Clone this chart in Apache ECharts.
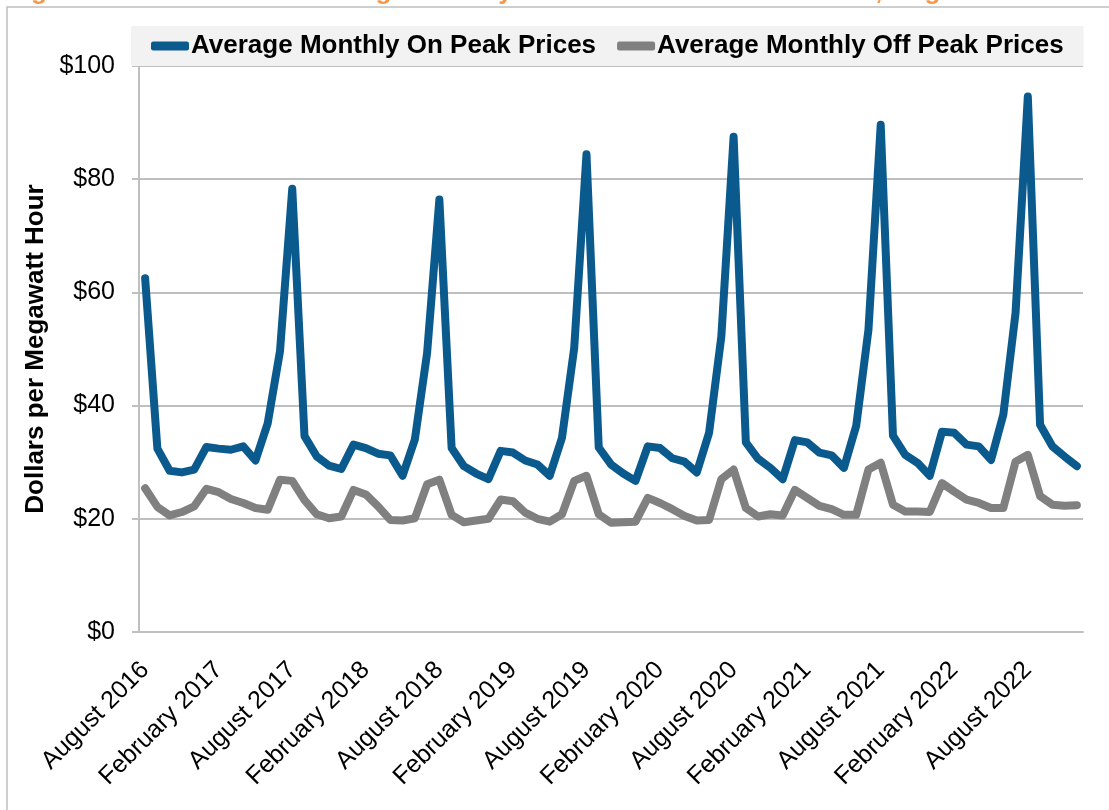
<!DOCTYPE html>
<html>
<head>
<meta charset="utf-8">
<script src="https://cdn.jsdelivr.net/npm/echarts@6/dist/echarts.min.js"></script>
<style>
  html, body { margin: 0; padding: 0; background: #fff; }
  #chart { width: 1109px; height: 810px; }
</style>
</head>
<body>
<div id="chart"></div>
<script>
// monthly averages, August 2016 .. December 2022
var monthNames = ['January', 'February', 'March', 'April', 'May', 'June', 'July',
  'August', 'September', 'October', 'November', 'December']
var startYear = 2016
var startMonth = 7 // August
var onPeak = [
  62.5, 32.4, 28.5, 28.2, 28.7, 32.7, 32.4, 32.2, 32.8, 30.3, 36.9, 49.6, 78.3,
  34.6, 31.0, 29.4, 28.8, 33.1, 32.5, 31.5, 31.2, 27.6, 34.0, 49.3, 76.4,
  32.5, 29.3, 28.0, 27.0, 32.0, 31.7, 30.3, 29.6, 27.6, 34.3, 50.2, 84.4,
  32.6, 29.6, 28.0, 26.7, 32.8, 32.5, 30.7, 30.1, 28.2, 35.2, 52.2, 87.5,
  33.5, 30.6, 29.0, 27.0, 33.9, 33.5, 31.7, 31.2, 29.0, 36.4, 53.4, 89.6,
  34.7, 31.3, 29.9, 27.6, 35.4, 35.2, 33.1, 32.8, 30.4, 38.4, 56.4, 94.6,
  36.6, 32.8, 31.0, 29.3
]
var offPeak = [
  25.4, 22.1, 20.6, 21.2, 22.2, 25.3, 24.7, 23.5, 22.8, 21.9, 21.6, 26.9, 26.7,
  23.3, 20.8, 20.1, 20.4, 25.1, 24.3, 22.2, 19.8, 19.7, 20.1, 26.1, 26.9,
  20.7, 19.4, 19.7, 20.0, 23.4, 23.1, 21.1, 20.0, 19.5, 20.8, 26.7, 27.6,
  20.8, 19.3, 19.4, 19.5, 23.7, 22.8, 21.7, 20.5, 19.7, 19.8, 27.0, 28.7,
  21.9, 20.4, 20.8, 20.6, 25.1, 23.7, 22.3, 21.7, 20.7, 20.7, 28.7, 29.9,
  22.5, 21.3, 21.3, 21.2, 26.3, 24.8, 23.4, 22.8, 21.9, 21.9, 30.1, 31.3,
  24.0, 22.5, 22.3, 22.4
]
var yTicks = [0, 20, 40, 60, 80, 100]

var categories = onPeak.map(function (v, i) {
  var m = startMonth + i
  return monthNames[m % 12] + ' ' + (startYear + Math.floor(m / 12))
})

var font = '"Liberation Sans", Arial, sans-serif'
var gridGray = '#bfbfbf'

var chart = echarts.init(document.getElementById('chart'))
chart.setOption({
  backgroundColor: '#fff',
  animation: false,
  textStyle: { fontFamily: font },
  graphic: [
    {
      type: 'rect',
      z: -10,
      shape: { x: 7, y: 7, width: 1130, height: 830 },
      style: { fill: '#fff', stroke: gridGray, lineWidth: 1.5 }
    },
    {
      type: 'text',
      left: 8,
      top: -21,
      style: {
        text: 'Figure 1: Mid-Columbia Average Monthly On Peak and Off Peak Prices, August 2016 to December 2022',
        fill: '#F79646',
        font: 'bold 26px ' + font
      }
    }
  ],
  grid: {
    left: 139,
    right: 26,
    top: 66,
    bottom: 178,
    outerBoundsMode: 'none'
  },
  legend: {
    left: 131,
    top: 26,
    padding: [7, 20, 7, 20],
    backgroundColor: '#f2f2f2',
    itemGap: 21,
    itemWidth: 38,
    itemHeight: 9,
    icon: 'roundRect',
    textStyle: { fontFamily: font, fontSize: 26, fontWeight: 'bold', color: '#000', padding: [0, 0, 0, -3] },
    data: ['Average Monthly On Peak Prices', 'Average Monthly Off Peak Prices']
  },
  xAxis: {
    type: 'category',
    boundaryGap: true,
    data: categories,
    axisLine: { lineStyle: { color: gridGray, width: 2 } },
    axisTick: { interval: 5, length: 7, lineStyle: { color: gridGray, width: 2 } },
    axisLabel: {
      interval: 5,
      rotate: 45,
      margin: 34,
      fontSize: 25,
      color: '#000',
      fontFamily: font
    },
    splitLine: { show: false }
  },
  yAxis: {
    type: 'value',
    min: yTicks[0],
    max: yTicks[yTicks.length - 1],
    interval: 20,
    name: 'Dollars per Megawatt Hour',
    nameLocation: 'middle',
    nameGap: 78,
    nameTextStyle: { fontFamily: font, fontSize: 26, fontWeight: 'bold', color: '#000' },
    axisLine: { show: true, lineStyle: { color: gridGray, width: 2 } },
    axisTick: { show: true, length: 7, lineStyle: { color: gridGray, width: 2 } },
    axisLabel: {
      margin: 24,
      fontSize: 25,
      color: '#000',
      fontFamily: font,
      formatter: function (v) { return '$' + v }
    },
    splitLine: { show: true, lineStyle: { color: gridGray, width: 2 } }
  },
  series: [
    {
      name: 'Average Monthly On Peak Prices',
      type: 'line',
      data: onPeak,
      showSymbol: false,
      color: '#0B5A8E',
      lineStyle: { width: 8, cap: 'round', join: 'round', color: '#0B5A8E' }
    },
    {
      name: 'Average Monthly Off Peak Prices',
      type: 'line',
      data: offPeak,
      showSymbol: false,
      color: '#808080',
      lineStyle: { width: 8, cap: 'round', join: 'round', color: '#808080' }
    }
  ]
})
</script>
</body>
</html>
